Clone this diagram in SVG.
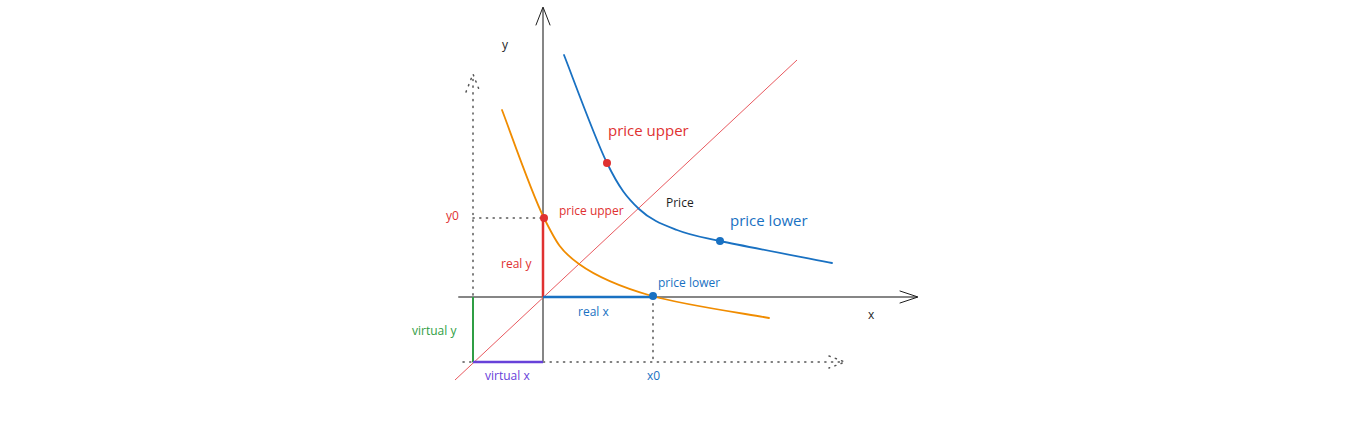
<svg xmlns="http://www.w3.org/2000/svg" width="1349" height="428" viewBox="0 0 1349 428">
<style>
text{font-family:"Open Sans","Noto Sans",sans-serif}
.axis{stroke:#868686;stroke-width:2;fill:none;stroke-linecap:round;stroke-linejoin:round}
.head{stroke:#1e1e1e;stroke-width:1;fill:none;stroke-linecap:round}
.dot{stroke:#555;stroke-width:1.5;fill:none;stroke-dasharray:1.2 5.5;stroke-linecap:round}
.s{font-size:12px}
.l{font-size:15px}
.red{fill:#e03131}.blue{fill:#1971c2}.green{fill:#2f9e44}.purple{fill:#6741d9}.black{fill:#1e1e1e}
</style>
<rect width="1349" height="428" fill="#ffffff"/>
<g id="connectors">
<g id="dotted-guides">
<path class="dot" d="M473,362 L473,76"/>
<path class="dot" d="M466,92 L473,74 L480,92"/>
<path class="dot" d="M463,362 L843,362"/>
<path class="dot" d="M829,356 L845,362 L829,368"/>
<path class="dot" d="M473,218 L543,218"/>
<path class="dot" d="M653,297 L653,362"/>
</g>
<g id="axes">
<path class="axis" d="M543,362 L543,9"/>
<path class="head" d="M536,25 L543,7 L550,25"/>
<path class="axis" d="M459,297 L916,297"/>
<path class="head" d="M900,291 L918,297 L900,303"/>
</g>
<path id="price-line" d="M455,380 L797,60" stroke="#e8595f" stroke-width="1" fill="none"/>
<path id="real-y" d="M543,218 L543,297" stroke="#e03131" stroke-width="2.5" fill="none"/>
<path id="real-x" d="M543,297 L653,297" stroke="#1971c2" stroke-width="2.5" fill="none"/>
<path id="virtual-y" d="M473,297 L473,362" stroke="#2f9e44" stroke-width="2" fill="none"/>
<path id="virtual-x" d="M473,362 L543,362" stroke="#6741d9" stroke-width="2.5" fill="none"/>
<path id="real-curve" fill="none" stroke="#f08c00" stroke-width="1.8" stroke-linecap="round" d="M502,110 C509,128 531.17,192.33 544,218 C556.83,243.67 561,251 579,264 C597,277 620.33,287 652,296 C683.67,305 749.5,314.33 769,318"/>
<path id="virtual-curve" fill="none" stroke="#1971c2" stroke-width="1.8" stroke-linecap="round" d="M564,55 C571.17,73 594.5,137.33 607,163 C619.5,188.67 627.33,197.83 639,209 C650.67,220.17 663.5,224.67 677,230 C690.5,235.33 694.17,235.5 720,241 C745.83,246.5 813.33,259.33 832,263"/>
</g>
<g id="points">
<circle id="pt-upper-virtual" cx="607" cy="163" r="4" fill="#e03131"/>
<circle id="pt-lower-virtual" cx="720" cy="241" r="4" fill="#1971c2"/>
<circle id="pt-upper-real" cx="544" cy="218" r="4" fill="#e03131"/>
<circle id="pt-lower-real" cx="653" cy="296" r="4" fill="#1971c2"/>
</g>
<g id="labels">
<text class="s black" x="502" y="49">y</text>
<text class="s black" x="868" y="319">x</text>
<text class="s red" x="446" y="220">y0</text>
<text class="s red" x="559" y="215">price upper</text>
<text class="l red" x="608" y="136">price upper</text>
<text class="s black" x="666" y="207">Price</text>
<text class="l blue" x="730" y="226">price lower</text>
<text class="s blue" x="658" y="287">price lower</text>
<text class="s red" x="501" y="268">real y</text>
<text class="s blue" x="578" y="316">real x</text>
<text class="s green" x="412" y="335">virtual y</text>
<text class="s purple" x="485" y="380">virtual x</text>
<text class="s blue" x="647" y="380">x0</text>
</g>
</svg>
